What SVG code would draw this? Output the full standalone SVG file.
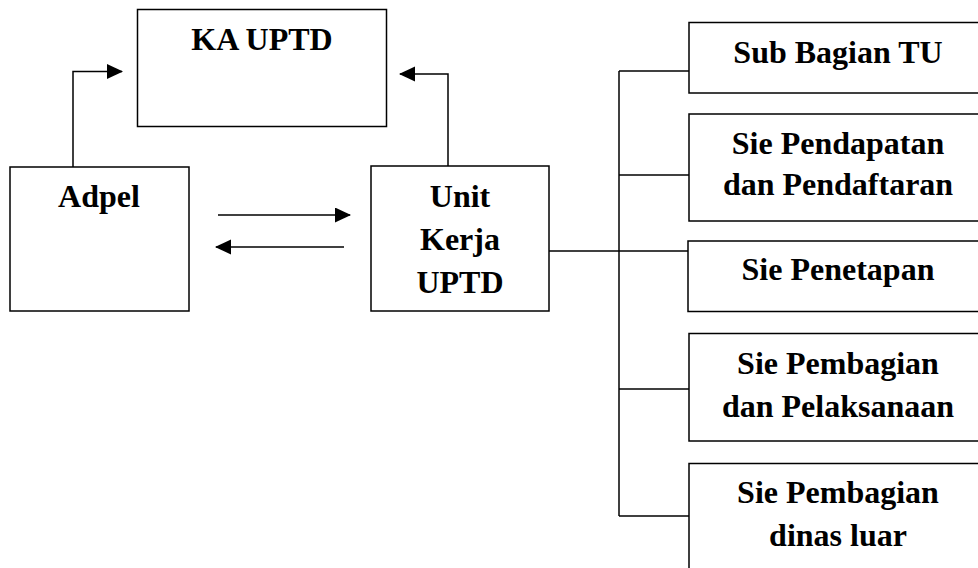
<svg xmlns="http://www.w3.org/2000/svg" width="978" height="568" viewBox="0 0 978 568">
<style>
.box{fill:#fff;stroke:#000;stroke-width:1.5}
.ln{fill:none;stroke:#000;stroke-width:1.5}
.t{font-family:'Liberation Serif','DejaVu Serif',serif;font-weight:700;font-size:32px;fill:#000;text-anchor:middle}
</style>
<defs>
<marker id="ah" markerUnits="userSpaceOnUse" markerWidth="16" markerHeight="16" refX="15" refY="7.5" orient="auto">
<path d="M0,0 L16,7.5 L0,15 z" fill="#000"/>
</marker>
</defs>
<g id="connectors">
<path class="ln" d="M73,170 V71.5 H122" marker-end="url(#ah)"/>
<path class="ln" d="M448,166 V74 H400" marker-end="url(#ah)"/>
<path class="ln" d="M218,215 H350" marker-end="url(#ah)"/>
<path class="ln" d="M344,247 H216" marker-end="url(#ah)"/>
<path class="ln" d="M549,251 H689"/>
<path class="ln" d="M619,71 V516"/>
<path class="ln" d="M619,71 H689"/>
<path class="ln" d="M619,175 H689"/>
<path class="ln" d="M619,389 H689"/>
<path class="ln" d="M619,516 H689"/>
</g>
<g class="t" font-family="Liberation Serif, DejaVu Serif, serif">
<g id="ka-uptd">
<rect class="box" x="137.5" y="9.5" width="249" height="117"/>
<text x="262" y="50">KA UPTD</text>
</g>
<g id="adpel">
<rect class="box" x="10" y="167" width="179" height="144"/>
<text x="99" y="207">Adpel</text>
</g>
<g id="unit-kerja">
<rect class="box" x="371" y="166" width="178" height="145"/>
<text x="460" y="207">Unit</text>
<text x="460" y="250">Kerja</text>
<text x="460" y="293">UPTD</text>
</g>
<g id="sub-bagian-tu">
<rect class="box" x="689" y="22.5" width="300" height="70.5"/>
<text x="838" y="63">Sub Bagian TU</text>
</g>
<g id="sie-pendapatan">
<rect class="box" x="689" y="114" width="300" height="107"/>
<text x="838" y="154">Sie Pendapatan</text>
<text x="838" y="195">dan Pendaftaran</text>
</g>
<g id="sie-penetapan">
<rect class="box" x="688" y="241" width="300" height="70.5"/>
<text x="838" y="280">Sie Penetapan</text>
</g>
<g id="sie-pembagian-pelaksanaan">
<rect class="box" x="689" y="333.5" width="300" height="107.5"/>
<text x="838" y="374">Sie Pembagian</text>
<text x="838" y="417">dan Pelaksanaan</text>
</g>
<g id="sie-pembagian-dinas-luar">
<rect class="box" x="689" y="463.5" width="300" height="120"/>
<text x="838" y="503">Sie Pembagian</text>
<text x="838" y="546">dinas luar</text>
</g>
</g>
</svg>
